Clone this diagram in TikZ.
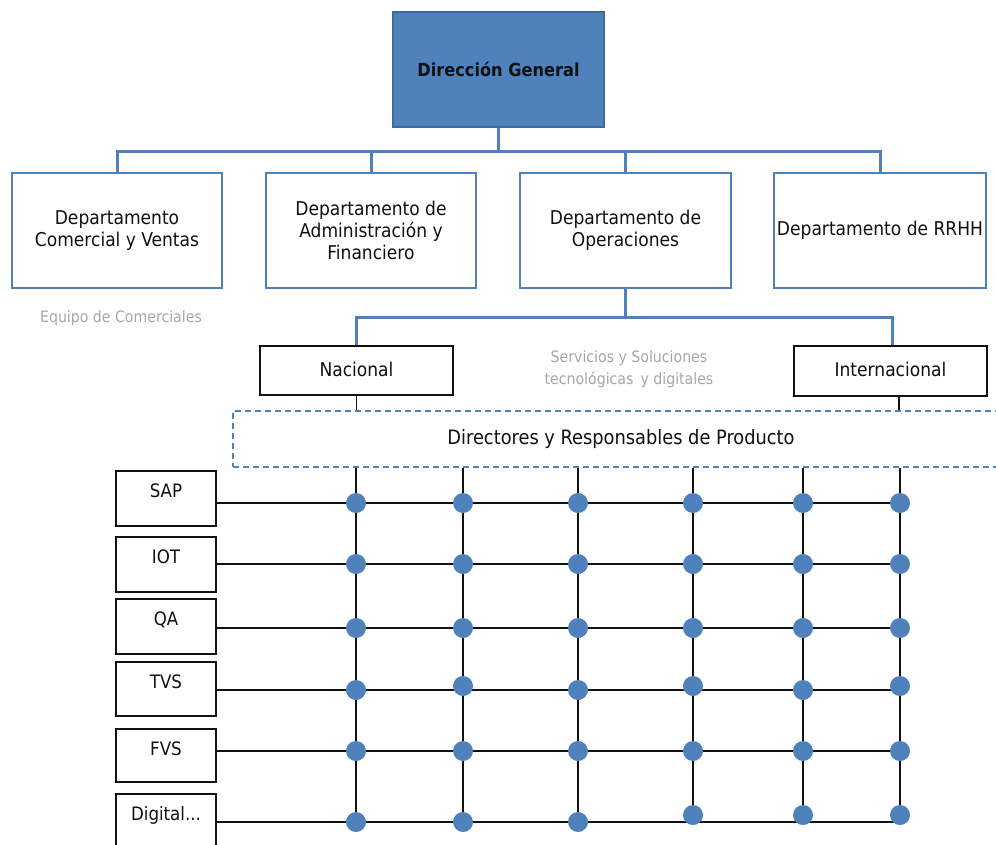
\documentclass[tikz,border=0pt]{standalone}
\usepackage{fontspec}
\setmainfont{DejaVu Sans Condensed}
\definecolor{blueA}{HTML}{4F81BD}
\definecolor{blueB}{HTML}{41699A}
\definecolor{greyT}{HTML}{A6A6A6}
\definecolor{inkK}{HTML}{111111}

\tikzset{
  topbox/.style={draw=blueB, fill=blueA, line width=2pt, minimum width=211pt,
    minimum height=115pt, font=\fontsize{18}{22}\selectfont\bfseries, text=inkK},
  deptbox/.style={draw=blueA, line width=2.6pt, minimum height=115pt,
    align=center, inner sep=1pt, font=\fontsize{19}{22}\selectfont, text=inkK},
  regionbox/.style={draw=inkK, line width=1.3pt, minimum width=193pt,
    minimum height=49pt, font=\fontsize{19}{22}\selectfont, text=inkK},
  prodbox/.style={draw=inkK, line width=1.3pt, minimum width=100pt},
  prodlabel/.style={anchor=base, inner sep=0pt, font=\fontsize{18.5}{22}\selectfont, text=inkK},
  greynote/.style={align=center, text=greyT, font=\fontsize{15.7}{22}\selectfont},
  dirbox/.style={draw=blueA, dashed, dash pattern=on 6pt off 4pt, line width=1.2pt,
    minimum width=776pt, minimum height=56pt, font=\fontsize{19.8}{22}\selectfont, text=inkK},
  blueline/.style={draw=blueA, line width=3pt},
  gridline/.style={draw=inkK, line width=1.6pt},
  dot/.style={circle, fill=blueA, minimum size=20pt, inner sep=0pt},
}

\begin{document}
\begin{tikzpicture}[x=1pt, y=-1pt]
\useasboundingbox (0,0) rectangle (996,844);

% management
\node[topbox] (dg) at (498.5,69.5) {Dirección General};

% departments
\node[deptbox, minimum width=210pt] (dcv) at (117,230.5) {Departamento\\Comercial y Ventas};
\node[deptbox, minimum width=210pt] (daf) at (371,230.5) {Departamento de\\Administración y\\Financiero};
\node[deptbox, minimum width=211pt] (dop) at (625.5,230.5) {Departamento de\\Operaciones};
\node[deptbox, minimum width=212pt] (drh) at (880,230.5) {Departamento de RRHH};

\draw[blueline] (dg.south) -- ++(0,23) coordinate (bus);
\draw[blueline] (dcv.north) |- (bus) -| (drh.north);
\draw[blueline] (daf.north) -- (daf.north |- bus);
\draw[blueline] (dop.north) -- (dop.north |- bus);

% notes
\node[greynote] (eqc) at (121,318) {Equipo de Comerciales};
\node[greynote] (sst) at (629,369) {Servicios y Soluciones\\tecnológicas\, y digitales};

% regions
\node[regionbox, text depth=3pt] (nac) at (356.5,370.5) {Nacional};
\node[regionbox, text depth=3pt, minimum height=50pt] (int) at (890.5,371) {Internacional};
\draw[blueline] (dop.south) -- ++(0,28) coordinate (opbus);
\draw[blueline] (nac.north) |- (opbus) -| ([xshift=1.5pt]int.north);

% product managers
\node[dirbox, text depth=4pt] (dir) at (621,439) {Directores y Responsables de Producto};
\draw[gridline] (nac.south) -- (nac.south |- dir.north);
\draw[gridline] ([xshift=8.5pt]int.south) -- ([xshift=8.5pt]int.south |- dir.north);

% product lines
\node[prodbox, minimum height=55pt] (sap) at (166,498.5) {};
\node[prodbox, minimum height=55pt] (iot) at (166,564.5) {};
\node[prodbox, minimum height=55pt] (qa)  at (166,626.5) {};
\node[prodbox, minimum height=54pt] (tvs) at (166,689) {};
\node[prodbox, minimum height=53pt] (fvs) at (166,755.5) {};
\node[prodbox, minimum height=60pt] (dig) at (166,824) {};
\node[prodlabel] (lsap) at ([yshift=-27.5pt]sap.north) {SAP};
\node[prodlabel] (liot) at ([yshift=-27.5pt]iot.north) {IOT};
\node[prodlabel] (lqa)  at ([yshift=-27.5pt]qa.north)  {QA};
\node[prodlabel] (ltvs) at ([yshift=-27.5pt]tvs.north) {TVS};
\node[prodlabel] (lfvs) at ([yshift=-27.5pt]fvs.north) {FVS};
\node[prodlabel] (ldig) at ([yshift=-27.5pt]dig.north) {Digital...};

% matrix of products x managers
\foreach \c/\x in {1/356,2/463,3/578,4/693,5/803,6/900} {
  \foreach \r/\y in {1/503,2/564,3/628,4/690,5/751,6/822} {
    \coordinate (p\r\c) at (\x,\y);
  }
}
\foreach \r/\b in {1/sap,2/iot,3/qa,4/tvs,5/fvs,6/dig} {
  \draw[gridline] (\b.east |- p\r1) -- (p\r6);
}
\foreach \c in {1,...,6} {
  \draw[gridline] (dir.south -| p1\c) -- (p6\c);
}
% dots, a few of them sitting slightly above their line
\foreach \r in {1,...,6} {
  \foreach \c in {1,...,6} {
    \def\dy{0}
    \ifnum\r=4 \ifodd\c\else\def\dy{-4}\fi\fi
    \ifnum\r=6 \ifnum\c>3 \def\dy{-7}\fi\fi
    \node[dot] (m\r\c) at ([yshift=-\dy pt]p\r\c) {};
  }
}
\end{tikzpicture}
\end{document}
